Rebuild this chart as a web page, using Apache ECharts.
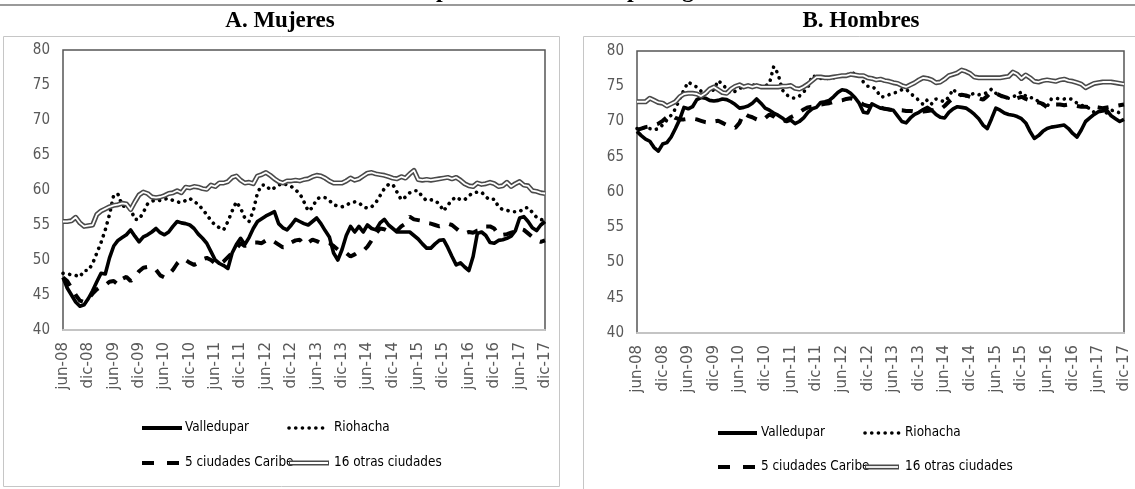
<!DOCTYPE html>
<html>
<head>
<meta charset="utf-8">
<script src="https://cdn.jsdelivr.net/npm/echarts@6/dist/echarts.min.js"></script>
<style>
html,body{margin:0;padding:0;background:#fff;}
#chart{width:1135px;height:489px;}
</style>
</head>
<body>
<div id="chart"></div>
<script>
// ---------- DATA ----------
const monthNames = ['ene','feb','mar','abr','may','jun','jul','ago','sep','oct','nov','dic'];
const categories = [];
for (let y = 2008; y <= 2017; y++) {
  for (let mi = 0; mi < 12; mi++) {
    if (y === 2008 && mi < 5) continue;
    categories.push(monthNames[mi] + '-' + String(y).slice(2));
  }
}
const yTicks = [40,45,50,55,60,65,70,75,80];
const seriesNames = ['Valledupar','Riohacha','5 ciudades Caribe','16 otras ciudades'];

// A. Mujeres
const mujValledupar = [47.5,46.0,45.0,44.0,43.4,43.6,44.5,45.6,46.9,48.1,48.0,50.3,52.0,52.8,53.2,53.6,54.3,53.4,52.6,53.3,
53.6,54.0,54.5,53.9,53.6,54.0,54.8,55.5,55.3,55.2,55.0,54.5,53.7,53.1,52.4,51.2,50.0,49.5,49.2,48.8,
51.0,52.2,53.1,52.2,53.2,54.5,55.5,55.9,56.3,56.6,56.9,55.2,54.6,54.3,55.0,55.8,55.5,55.2,55.0,55.5,
56.0,55.2,54.2,53.3,51.0,50.0,51.5,53.5,54.8,54.0,54.8,54.0,55.0,54.5,54.3,55.3,55.8,55.0,54.5,54.0,
54.0,54.0,54.0,53.5,53.0,52.3,51.7,51.7,52.3,52.8,52.9,51.8,50.5,49.3,49.6,49.0,48.5,50.5,53.8,54.0,
53.5,52.5,52.4,52.8,52.9,53.1,53.4,54.2,56.0,56.2,55.5,54.6,54.2,55.0,55.5];
const mujRiohacha = [48.1,48.0,47.9,47.8,47.6,48.5,48.5,49.5,51.0,52.5,54.3,56.5,59.3,59.4,57.8,57.5,57.3,55.8,55.8,56.8,
58.0,58.4,58.6,58.5,58.7,58.8,58.5,58.3,58.2,58.5,58.8,58.3,58.0,57.2,56.5,55.6,55.0,54.6,54.3,55.5,
57.0,58.3,57.4,56.0,55.5,57.0,59.6,60.7,60.7,60.0,60.3,60.7,61.0,60.7,60.5,60.0,59.5,58.3,57.0,57.5,
58.7,59.0,58.9,58.5,57.9,57.7,57.6,57.8,58.2,58.3,58.2,57.6,57.4,57.6,58.2,59.2,60.2,60.8,60.8,59.7,
58.6,59.0,59.6,59.9,59.9,59.0,58.5,58.6,58.5,58.0,57.0,57.8,58.6,59.0,58.6,58.6,59.2,59.6,59.7,59.7,
59.0,58.6,58.7,57.6,57.2,57.1,56.9,56.9,56.9,57.4,57.5,56.8,56.1,55.8,55.6];
const mujCaribe = [47.5,47.0,46.0,45.0,44.2,44.0,44.5,45.2,45.8,46.2,46.4,46.9,47.0,46.5,47.3,47.6,47.0,47.6,48.4,48.9,
49.0,49.0,48.6,47.8,47.5,47.9,48.6,49.5,50.1,50.0,49.6,49.3,49.6,50.1,50.3,50.0,49.5,49.4,49.8,50.4,
51.0,51.6,52.4,52.0,52.3,52.5,52.5,52.4,52.8,53.0,52.6,52.2,51.8,51.9,52.5,52.8,52.9,52.2,52.5,52.9,
52.7,52.4,52.5,52.4,52.0,51.5,51.2,51.0,50.5,50.8,51.2,51.3,51.9,52.8,53.8,54.5,54.4,54.1,54.0,54.2,
54.8,55.2,56.2,55.8,55.7,55.6,55.3,55.2,55.0,54.8,55.0,55.2,55.0,54.5,54.0,53.8,54.0,53.9,54.2,54.3,
54.8,54.8,54.5,53.6,53.6,53.7,53.9,54.1,54.5,54.3,53.8,53.3,52.8,52.6,52.8];
const mujOtras = [55.5,55.5,55.6,56.1,55.3,54.8,54.9,55.0,56.5,57.0,57.3,57.6,57.8,57.9,58.1,58.0,57.2,58.3,59.3,59.7,
59.5,59.0,58.9,59.0,59.2,59.5,59.6,59.9,59.6,60.4,60.3,60.5,60.4,60.2,60.1,60.7,60.5,61.0,61.0,61.2,
61.8,62.0,61.4,61.0,61.1,60.9,62.0,62.2,62.5,62.1,61.6,61.2,61.0,61.3,61.3,61.4,61.3,61.5,61.6,61.9,
62.1,62.0,61.7,61.3,61.0,61.0,61.0,61.3,61.7,61.4,61.6,62.0,62.4,62.5,62.3,62.2,62.1,61.9,61.7,61.6,
61.9,61.7,62.3,62.8,61.5,61.4,61.5,61.4,61.5,61.6,61.7,61.8,61.6,61.8,61.4,60.9,60.6,60.5,61.0,60.8,
60.9,61.1,60.9,60.5,60.6,61.1,60.5,60.9,61.2,60.7,60.6,59.9,59.8,59.6,59.5];

// B. Hombres
const homValledupar = [68.6,68.0,67.5,67.2,66.3,65.8,66.8,67.0,67.8,69.0,70.3,72.0,71.8,72.1,73.1,73.4,73.3,73.0,72.9,73.0,
73.2,73.1,72.8,72.4,71.9,72.0,72.2,72.6,73.2,72.6,71.9,71.6,71.2,70.9,70.5,70.0,70.2,69.7,70.0,70.5,
71.3,71.8,72.0,72.7,72.8,73.0,73.5,74.1,74.5,74.4,74.0,73.4,72.6,71.3,71.2,72.5,72.2,71.9,71.8,71.7,
71.6,70.8,70.0,69.8,70.5,71.0,71.3,71.7,72.0,71.6,71.0,70.6,70.5,71.3,71.8,72.1,72.0,71.9,71.5,71.0,
70.4,69.5,69.0,70.4,71.9,71.6,71.2,71.0,70.9,70.7,70.4,69.8,68.6,67.6,68.0,68.6,69.0,69.2,69.3,69.4,
69.5,69.0,68.3,67.8,68.8,70.0,70.5,71.0,71.4,71.5,71.6,70.8,70.4,70.0,70.3];
const homRiohacha = [69.0,69.0,69.2,69.0,68.8,69.0,69.5,70.2,70.9,71.8,73.2,74.5,75.6,75.2,74.9,74.3,74.0,74.2,74.5,75.8,
75.3,74.6,74.0,74.3,74.7,74.9,75.1,75.2,75.1,75.0,75.0,75.4,77.8,76.8,74.5,73.8,73.4,73.3,73.6,74.2,
74.8,76.5,76.3,76.1,76.1,76.1,76.2,76.4,76.5,76.6,76.9,76.8,76.5,75.6,75.0,75.0,74.5,73.5,73.5,73.8,
74.0,74.2,74.5,74.6,74.0,73.5,73.0,72.4,73.1,72.5,73.2,73.0,72.8,73.5,74.6,73.9,73.7,73.6,73.8,74.0,
73.8,73.9,74.1,74.6,74.0,73.6,73.5,73.3,73.5,73.8,74.2,73.6,73.4,73.3,72.8,72.4,72.1,73.2,73.3,73.2,
73.2,73.3,73.1,72.6,72.3,72.2,71.8,71.3,71.5,71.4,71.2,71.6,71.5,71.2,71.4];
const homCaribe = [68.8,69.0,69.2,69.3,69.5,69.7,70.1,70.6,70.9,70.5,70.3,70.3,70.4,70.4,70.3,70.1,69.9,69.8,70.0,70.1,
69.8,69.5,69.3,69.1,69.8,71.2,70.8,70.6,70.3,70.1,70.5,71.0,70.7,70.2,70.0,70.2,70.6,70.9,71.3,71.7,
72.0,72.1,72.3,72.4,72.5,72.6,72.8,72.9,73.0,73.2,73.3,73.1,72.8,72.4,72.2,72.2,72.3,72.0,71.8,71.7,
71.6,71.6,71.6,71.5,71.5,71.4,71.3,71.4,71.5,71.6,71.6,71.7,72.2,72.8,73.3,73.6,73.8,73.7,73.5,73.5,
73.3,73.1,73.6,74.2,74.0,73.7,73.5,73.3,73.2,73.3,73.5,73.2,73.0,72.8,72.7,72.5,72.0,72.3,72.4,72.4,
72.3,72.4,72.3,72.2,72.1,72.1,72.0,72.1,72.0,71.9,72.0,72.1,72.2,72.3,72.4];
const homOtras = [72.8,72.8,72.8,73.3,73.0,72.7,72.6,72.2,72.5,72.8,73.5,73.9,74.0,74.0,73.9,73.6,74.0,74.6,74.9,74.5,
74.1,74.0,74.6,75.0,75.2,74.9,75.1,74.9,75.1,74.9,74.9,74.9,74.9,74.9,75.0,75.0,75.1,74.7,74.6,74.9,
75.3,75.8,76.3,76.3,76.2,76.2,76.3,76.4,76.5,76.5,76.7,76.6,76.5,76.5,76.2,76.1,75.9,76.0,75.8,75.7,
75.5,75.4,75.1,74.9,75.2,75.5,75.9,76.2,76.1,75.9,75.5,75.6,76.0,76.5,76.7,76.9,77.3,77.1,76.8,76.3,
76.2,76.2,76.2,76.2,76.2,76.2,76.3,76.4,77.0,76.7,76.1,76.6,76.2,75.7,75.6,75.8,75.9,75.8,75.7,75.9,
76.0,75.8,75.7,75.5,75.3,74.8,75.1,75.4,75.5,75.6,75.6,75.6,75.5,75.4,75.3];

// ---------- FONT PICKING (no web fonts; use what is installed) ----------
function hasFont(name) {
  const c = document.createElement('canvas').getContext('2d');
  const s = 'Valledupar 5 ciudades Caribe 0123456789';
  for (const fb of ['monospace', 'serif']) {
    c.font = '40px ' + fb;
    const w0 = c.measureText(s).width;
    c.font = '40px "' + name + '", ' + fb;
    if (Math.abs(c.measureText(s).width - w0) > 0.5) return true;
  }
  return false;
}
let NARROW = null, legendSize = 14, yLabSize = 16;
for (const cand of ['Liberation Sans Narrow', 'DejaVu Sans Condensed', 'Arial Narrow', 'Roboto Condensed', 'Open Sans Condensed']) {
  if (hasFont(cand)) { NARROW = "'" + cand + "'"; break; }
}
if (NARROW && NARROW.indexOf('Liberation Sans Narrow') >= 0) { legendSize = 14.5; yLabSize = 16.5; }
else if (NARROW && NARROW.indexOf('DejaVu') >= 0) { legendSize = 13.4; yLabSize = 15; }
else if (NARROW) { legendSize = 14; yLabSize = 16; }
else { NARROW = "'Lato'"; legendSize = 13.5; yLabSize = 16; }
NARROW += ",'Liberation Sans',sans-serif";
const SERIF = "'Liberation Serif','DejaVu Serif',serif";
const LABEL_COLOR = '#595959';

function lineSeries(name, data, axisIdx, kind) {
  const base = {
    name: name, type: 'line', data: data, xAxisIndex: axisIdx, yAxisIndex: axisIdx,
    symbol: 'none', smooth: false, silent: true, animation: false
  };
  if (kind === 'solid') {
    base.lineStyle = {color: '#000', width: 3.6, join: 'round'};
    base.z = 3;
  } else if (kind === 'dotted') {
    base.lineStyle = {color: '#000', width: 3.6, type: [0.1, 6.6], cap: 'round'};
    base.z = 4;
  } else if (kind === 'dashed') {
    base.lineStyle = {color: '#000', width: 4, type: [11, 10]};
    base.z = 5;
  } else if (kind === 'outer') {
    base.lineStyle = {color: '#4a4a4a', width: 5, join: 'round'};
    base.z = 6;
  } else if (kind === 'inner') {
    base.lineStyle = {color: '#ffffff', width: 1.8, join: 'round'};
    base.z = 7;
  }
  return base;
}

function makeGrid(left, top, width, height) {
  return {left: left, top: top, width: width, height: height, show: true,
    borderColor: '#555', borderWidth: 1.5, backgroundColor: 'transparent', containLabel: false};
}
function makeX(gi) {
  return {
    type: 'category', gridIndex: gi, data: categories, boundaryGap: false,
    axisLine: {show: true, lineStyle: {color: '#c4c4c4', width: 2}},
    axisTick: {show: false},
    splitLine: {show: false},
    axisLabel: {interval: 5, rotate: 90, margin: 12, color: LABEL_COLOR,
      fontFamily: "'DejaVu Sans',sans-serif", fontSize: 15}
  };
}
function makeY(gi) {
  return {
    type: 'value', gridIndex: gi, min: yTicks[0], max: yTicks[yTicks.length - 1], interval: 5,
    axisLine: {show: false}, axisTick: {show: false}, splitLine: {show: false},
    axisLabel: {margin: 13, color: LABEL_COLOR, fontFamily: NARROW, fontSize: yLabSize}
  };
}

// legend graphics
function legendItems(x1, x2, xt1, xt2, y1, y2) {
  const font = legendSize + 'px ' + NARROW;
  const els = [];
  els.push({type: 'line', shape: {x1: x1[0], y1: y1, x2: x1[1], y2: y1}, style: {stroke: '#000', lineWidth: 3.8}});
  els.push({type: 'text', x: xt1, y: y1, style: {text: seriesNames[0], font: font, fill: '#000', verticalAlign: 'middle', align: 'left'}});
  els.push({type: 'line', shape: {x1: x2[0], y1: y1, x2: x2[1], y2: y1}, style: {stroke: '#000', lineWidth: 3.6, lineDash: [0.1, 6.6], lineCap: 'round'}});
  els.push({type: 'text', x: xt2, y: y1, style: {text: seriesNames[1], font: font, fill: '#000', verticalAlign: 'middle', align: 'left'}});
  els.push({type: 'line', shape: {x1: x1[0], y1: y2, x2: x1[1], y2: y2}, style: {stroke: '#000', lineWidth: 4, lineDash: [12, 13]}});
  els.push({type: 'text', x: xt1, y: y2, style: {text: seriesNames[2], font: font, fill: '#000', verticalAlign: 'middle', align: 'left'}});
  els.push({type: 'line', shape: {x1: x2[0], y1: y2, x2: x2[1], y2: y2}, style: {stroke: '#4a4a4a', lineWidth: 5}});
  els.push({type: 'line', shape: {x1: x2[0] + 1, y1: y2, x2: x2[1] - 1, y2: y2}, style: {stroke: '#fff', lineWidth: 1.8}, z: 101});
  els.push({type: 'text', x: xt2, y: y2, style: {text: seriesNames[3], font: font, fill: '#000', verticalAlign: 'middle', align: 'left'}});
  return els;
}

const graphics = [
  {type: 'line', shape: {x1: 0, y1: 5, x2: 1135, y2: 5}, style: {stroke: '#9a9a9a', lineWidth: 2}},
  {type: 'text', x: 504, y: -9, style: {text: 'Tasa de ocupación', font: 'bold 24px ' + SERIF, fill: '#000', align: 'right', verticalAlign: 'middle'}},
  {type: 'text', x: 627, y: -9, style: {text: 'por', font: 'bold 24px ' + SERIF, fill: '#000', align: 'left', verticalAlign: 'middle'}},
  {type: 'text', x: 682, y: -9, style: {text: 'género', font: 'bold 24px ' + SERIF, fill: '#000', align: 'left', verticalAlign: 'middle'}},
  {type: 'rect', shape: {x: 3.5, y: 36.5, width: 556, height: 450}, style: {fill: 'none', stroke: '#c6c6c6', lineWidth: 1}},
  {type: 'rect', shape: {x: 583.5, y: 36.5, width: 600, height: 500}, style: {fill: 'none', stroke: '#c6c6c6', lineWidth: 1}},
  {type: 'text', x: 280, y: 21, style: {text: 'A. Mujeres', font: 'bold 23px ' + SERIF, fill: '#000', align: 'center', verticalAlign: 'middle'}},
  {type: 'text', x: 861, y: 21, style: {text: 'B. Hombres', font: 'bold 23px ' + SERIF, fill: '#000', align: 'center', verticalAlign: 'middle'}}
].concat(
  legendItems([142, 182], [289, 329], 185, 334, 428, 463),
  legendItems([718, 757], [865, 899], 761, 905, 433, 467)
);

const option = {
  animation: false,
  backgroundColor: '#fff',
  grid: [makeGrid(63, 50, 482, 280), makeGrid(637, 51, 487, 282)],
  xAxis: [makeX(0), makeX(1)],
  yAxis: [makeY(0), makeY(1)],
  series: [
    lineSeries(seriesNames[0], mujValledupar, 0, 'solid'),
    lineSeries(seriesNames[1], mujRiohacha, 0, 'dotted'),
    lineSeries(seriesNames[2], mujCaribe, 0, 'dashed'),
    lineSeries(seriesNames[3], mujOtras, 0, 'outer'),
    lineSeries(seriesNames[3] + ' ', mujOtras, 0, 'inner'),
    lineSeries(seriesNames[0], homValledupar, 1, 'solid'),
    lineSeries(seriesNames[1], homRiohacha, 1, 'dotted'),
    lineSeries(seriesNames[2], homCaribe, 1, 'dashed'),
    lineSeries(seriesNames[3], homOtras, 1, 'outer'),
    lineSeries(seriesNames[3] + ' ', homOtras, 1, 'inner')
  ],
  graphic: graphics
};

const chart = echarts.init(document.getElementById('chart'), null, {renderer: 'canvas'});
chart.setOption(option);
</script>
</body>
</html>
